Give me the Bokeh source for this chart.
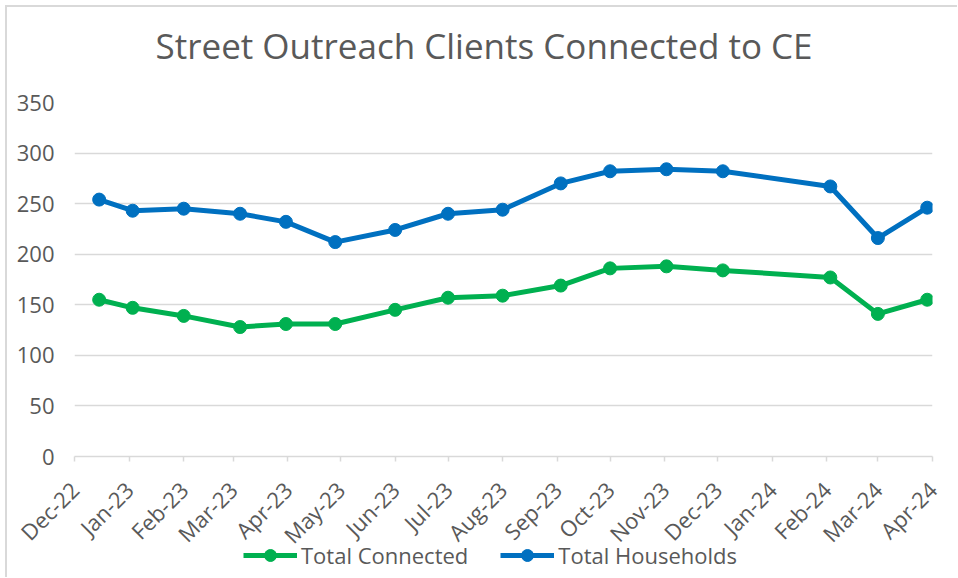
import pandas as pd
from math import pi
from bokeh.plotting import figure
from bokeh.layouts import column
from bokeh.models import (Range1d, DatetimeTickFormatter, MonthsTicker, SingleIntervalTicker,
                          Legend)
from bokeh.embed import file_html
from bokeh.resources import INLINE

# ---- data ----
dates = ["2022-12-15", "2023-01-03", "2023-02-01", "2023-03-05", "2023-03-31", "2023-04-28",
         "2023-06-01", "2023-07-01", "2023-08-01", "2023-09-03", "2023-10-01", "2023-11-02",
         "2023-12-04", "2024-02-03", "2024-03-01", "2024-03-29"]
total_connected = [155, 147, 139, 128, 131, 131, 145, 157, 159, 169, 186, 188, 184, 177, 141, 155]
total_households = [254, 243, 245, 240, 232, 212, 224, 240, 244, 270, 282, 284, 282, 267, 216, 246]
title_text = "Street Outreach Clients Connected to CE"
series_names = ["Total Connected", "Total Households"]
series_colors = ["#00B050", "#0070C0"]
x_start, x_end = "2022-12-01", "2024-04-01"
y_max = 350

x = pd.to_datetime(dates)
FONT = "Open Sans"
GRAY = "#595959"

# title strip (the chart canvas is laid over it with a transparent border)
tf = figure(width=950, height=70, output_backend="svg", toolbar_location=None,
            x_range=Range1d(0, 1), y_range=Range1d(0, 1),
            min_border_left=67, min_border_right=25, min_border_top=61, min_border_bottom=0)
tf.axis.visible = False
tf.grid.visible = False
tf.outline_line_color = None
tf.background_fill_alpha = 0
tf.border_fill_alpha = 0
tf.title.text = title_text
tf.title.align = "left"
tf.title.offset = 81
tf.title.standoff = 0
tf.title.text_font = FONT
tf.title.text_font_size = "35px"
tf.title.text_font_style = "normal"
tf.title.text_color = GRAY

p = figure(width=950, height=558, output_backend="svg", toolbar_location=None,
           x_axis_type="datetime",
           x_range=Range1d(pd.Timestamp(x_start), pd.Timestamp(x_end)),
           y_range=Range1d(0, y_max),
           min_border_left=67, min_border_right=25, min_border_top=95, min_border_bottom=109)
p.outline_line_color = None
p.background_fill_color = "white"
p.border_fill_alpha = 0
p.margin = (-70, 0, 0, 0)

# grid
p.xgrid.visible = False
p.ygrid.grid_line_color = "#d9d9d9"
p.ygrid.grid_line_width = 1.5
p.yaxis.ticker = SingleIntervalTicker(interval=50)

# y axis
p.yaxis.axis_line_color = None
p.yaxis.major_tick_line_color = None
p.yaxis.minor_tick_line_color = None
p.yaxis.major_label_text_font = FONT
p.yaxis.major_label_text_font_size = "22px"
p.yaxis.major_label_text_color = GRAY
p.yaxis.major_label_standoff = 14

# x axis
p.xaxis.ticker = MonthsTicker(months=list(range(12)))
p.xaxis.formatter = DatetimeTickFormatter(months="%b-%y", days="%b-%y")
p.xaxis.axis_line_color = "#d9d9d9"
p.xaxis.axis_line_width = 1.5
p.xaxis.major_tick_line_color = "#d9d9d9"
p.xaxis.major_tick_line_width = 1.5
p.xaxis.major_tick_out = 5
p.xaxis.major_tick_in = 0
p.xaxis.minor_tick_line_color = None
p.xaxis.major_label_orientation = pi / 4
p.xaxis.major_label_text_font = FONT
p.xaxis.major_label_text_font_size = "22px"
p.xaxis.major_label_text_color = GRAY
p.xaxis.major_label_standoff = 24

for name, col, ys in zip(series_names, series_colors, [total_connected, total_households]):
    p.line(x, ys, line_color=col, line_width=5)
    p.scatter(x, ys, size=13, fill_color=col, line_color=col)

# legend strip below the chart (overlapping the empty bottom of the chart canvas)
lg = figure(width=950, height=38, output_backend="svg", toolbar_location=None,
            x_range=Range1d(0, 1), y_range=Range1d(0, 1),
            min_border_left=7, min_border_right=0, min_border_top=0, min_border_bottom=6)
lg.axis.visible = False
lg.grid.visible = False
lg.outline_line_color = None
lg.background_fill_alpha = 0
lg.border_fill_alpha = 0
lg.margin = (-26, 0, 0, 0)
items = []
for name, col in zip(series_names, series_colors):
    ln = lg.line([5, 6], [5, 6], line_color=col, line_width=5)
    sc = lg.scatter([5], [5], size=12, fill_color=col, line_color=col)
    items.append((name, [ln, sc]))
legend = Legend(items=items, orientation="horizontal", location=(169, 1),
                label_text_font=FONT, label_text_font_size="22px", label_text_color=GRAY,
                glyph_width=54, glyph_height=30, label_standoff=4, spacing=32,
                border_line_color=None, background_fill_alpha=0, padding=0, margin=0)
lg.add_layout(legend)

layout = column(tf, p, lg, spacing=0,
                styles={"margin-left": "5px", "margin-top": "5px",
                        "border-left": "2px solid #d9d9d9", "border-top": "2px solid #d9d9d9"})

open("out.html", "w").write(file_html(layout, INLINE))
